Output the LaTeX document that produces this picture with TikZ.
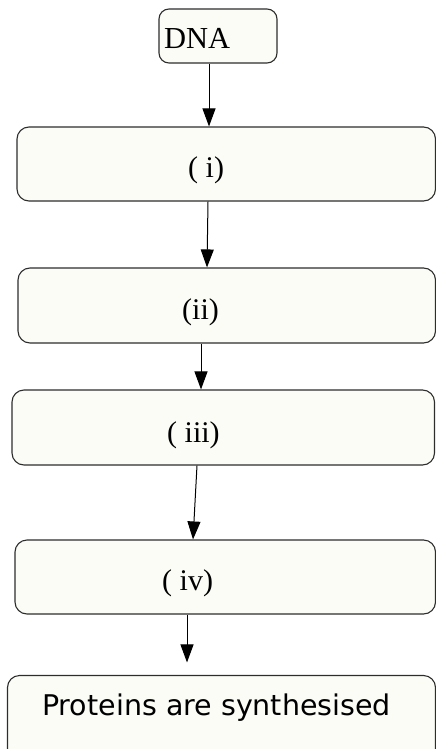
\documentclass[tikz,border=0pt]{standalone}
\usepackage{fontspec}
\setmainfont{Liberation Serif}
\newfontfamily\protfont{DejaVu Sans}
\usetikzlibrary{arrows.meta}
\definecolor{boxfill}{RGB}{252,252,247}
\definecolor{boxline}{RGB}{45,45,45}
\begin{document}
\begin{tikzpicture}[x=1pt,y=-1pt,
  flowbox/.style={draw=boxline,fill=boxfill,line width=1.1pt,rounded corners=12pt,inner sep=0pt},
  lbl/.style={anchor=base west,inner sep=0pt,font=\fontsize{30}{33}\selectfont},
  arr/.style={draw=black,line width=1pt,-{Triangle[length=18pt,width=13pt]}}]
\useasboundingbox (0,0) rectangle (436,749);
\node[flowbox,rounded corners=10pt,minimum width=118pt,minimum height=54pt] (dna) at (218,36) {};
\node[flowbox,minimum width=418.5pt,minimum height=74pt] (bi) at (226.25,164) {};
\node[flowbox,minimum width=417.5pt,minimum height=75pt] (bii) at (226.75,305.5) {};
\node[flowbox,minimum width=422.5pt,minimum height=75pt] (biii) at (223.25,427.5) {};
\node[flowbox,minimum width=420.5pt,minimum height=74pt] (biv) at (225.25,577) {};
\node[flowbox,minimum width=428pt,minimum height=100pt] (prot) at (221.5,725.5) {};
\node[lbl,font=\fontsize{30.5}{33}\selectfont] (tdna) at (164,48.3) {DNA};
\node[lbl] (ti) at (188,177.5) {( i)};
\node[lbl] (tii) at (182,319.5) {(ii)};
\node[lbl] (tiii) at (167,442) {( iii)};
\node[lbl] (tiv) at (162,590.5) {( iv)};
\node[anchor=base west,inner sep=0pt,font=\protfont\fontsize{28.5}{32}\selectfont] (tprot) at (42,715) {Proteins are synthesised};
\draw[arr] ([xshift=-9pt]dna.south) -- ([xshift=-17.25pt]bi.north);
\draw[arr] ([xshift=-18.25pt]bi.south) -- ([xshift=-19.75pt]bii.north);
\draw[arr] ([xshift=-25.75pt]bii.south) -- ([xshift=-22.25pt]biii.north);
\draw[arr] ([xshift=-26.25pt]biii.south) -- ([xshift=-32.25pt]biv.north);
\draw[arr] ([xshift=-38.25pt]biv.south) -- ([xshift=-34.5pt,yshift=12.5pt]prot.north);
\end{tikzpicture}
\end{document}
